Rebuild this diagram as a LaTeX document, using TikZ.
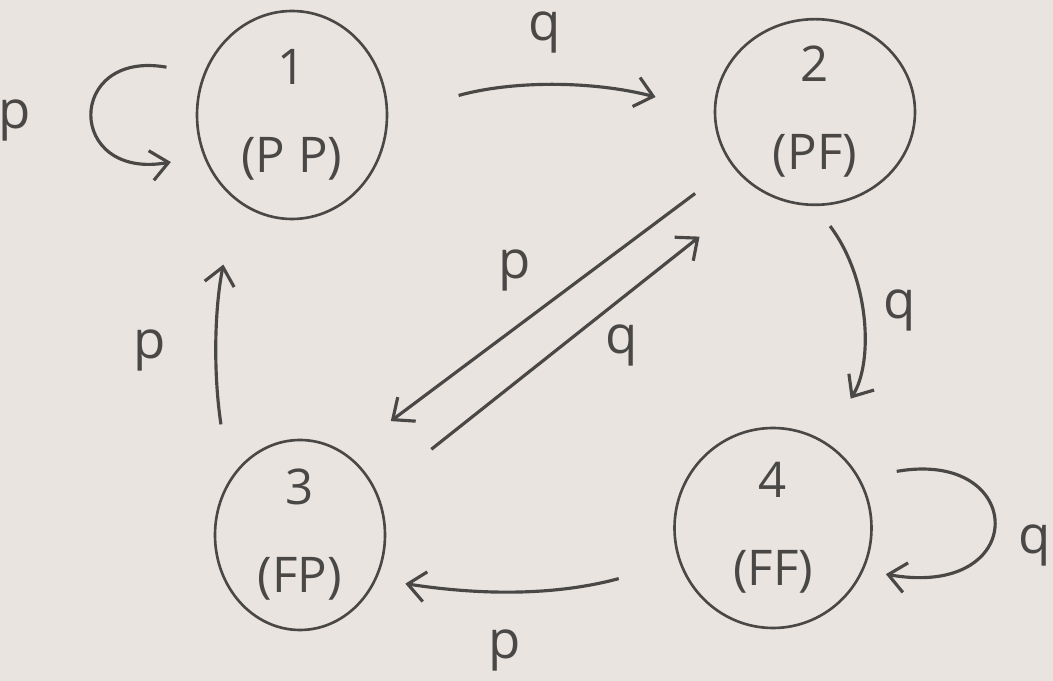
\documentclass[tikz,border=0pt]{standalone}
\usepackage{fontspec}
\setmainfont{Open Sans}
\usetikzlibrary{arrows.meta,shapes.geometric}
\definecolor{sketchInk}{HTML}{4A4846}
\definecolor{sketchPaper}{HTML}{E9E4E0}

\begin{document}
\begin{tikzpicture}[
    every node/.style={font=\fontsize{28}{50}\selectfont, text=sketchInk},
    state/.style={ellipse, draw=sketchInk, line width=1.5pt, inner sep=0pt, align=center},
    arr/.style={draw=sketchInk, line width=1.8pt, -{Straight Barb[length=3.5mm,width=6mm]}},
    lbl/.style={font=\fontsize{30}{30}\selectfont}]
  \fill[sketchPaper] (0,0) rectangle (21.06,13.62);
  \useasboundingbox (0,0) rectangle (21.06,13.62);
  \node[state, minimum width=3.8cm, minimum height=4.16cm] (pp) at (5.84,11.32) {1\\(P P)};
  \node[state, minimum width=4.0cm, minimum height=3.7cm] (pf) at (16.3,11.38) {2\\(PF)};
  \node[state, minimum width=3.4cm, minimum height=3.8cm] (fp) at (6.0,2.92) {3\\(FP)};
  \node[state, minimum width=3.94cm, minimum height=4.0cm] (ff) at (15.46,3.06) {4\\(FF)};
  \draw[arr, shorten <=0.75cm, shorten >=0.66cm] (pp.155) to[out=170, in=190, distance=2.8cm] (pp.205);
  \draw[arr, shorten <=1.46cm, shorten >=1.2cm] (pp.east) to[bend left=15] (pf.west);
  \draw[arr, shorten <=0.5cm, shorten >=1cm] (pf.south) to[bend left=35] (ff.60);
  \draw[arr, shorten <=0.92cm, shorten >=1.1cm] (pf.213) -- (fp.60);
  \draw[arr, shorten <=1.38cm, shorten >=1.5cm] (fp.29) -- (pf.234);
  \draw[arr, shorten <=1.12cm, shorten >=1.3cm] (fp.142) to[bend left=10] (pp.237);
  \draw[arr, shorten <=1.25cm, shorten >=0.58cm] (ff.200) to[bend left=12] (fp.-30);
  \draw[arr, shorten <=0.75cm, shorten >=0.45cm] (ff.30) to[out=10, in=-10, distance=3.4cm] (ff.-25);
  \node[lbl] (lp11) at (0.3,11.22) {p};
  \node[lbl] (lq12) at (10.9,12.98) {q};
  \node[lbl] (lq24) at (18.0,7.42) {q};
  \node[lbl] (lp23) at (10.3,8.22) {p};
  \node[lbl] (lq32) at (12.44,6.72) {q};
  \node[lbl] (lp31) at (3.0,6.62) {p};
  \node[lbl] (lp43) at (10.1,0.62) {p};
  \node[lbl] (lq44) at (20.7,2.72) {q};
\end{tikzpicture}
\end{document}
